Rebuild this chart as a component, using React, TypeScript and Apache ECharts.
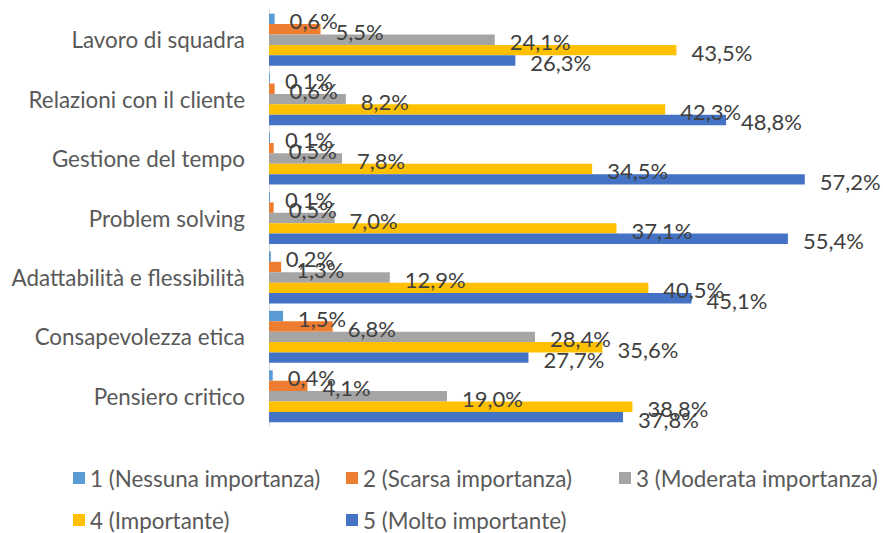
import React, { useEffect, useRef } from "react";
import * as echarts from "echarts";

const categories = [
  "Lavoro di squadra",
  "Relazioni con il cliente",
  "Gestione del tempo",
  "Problem solving",
  "Adattabilità e flessibilità",
  "Consapevolezza etica",
  "Pensiero critico",
];

const seriesNames = [
  "1 (Nessuna importanza)",
  "2 (Scarsa importanza)",
  "3 (Moderata importanza)",
  "4 (Importante)",
  "5 (Molto importante)",
];

const s1 = [0.6, 0.1, 0.1, 0.1, 0.2, 1.5, 0.4];
const s2 = [5.5, 0.6, 0.5, 0.5, 1.3, 6.8, 4.1];
const s3 = [24.1, 8.2, 7.8, 7.0, 12.9, 28.4, 19.0];
const s4 = [43.5, 42.3, 34.5, 37.1, 40.5, 35.6, 38.8];
const s5 = [26.3, 48.8, 57.2, 55.4, 45.1, 27.7, 37.8];

const colors = ["#5B9BD5", "#ED7D31", "#A5A5A5", "#FFC000", "#4472C4"];

const FONT = "Lato";
const FS = 22;
const FS_TEXT = 22.4;

export default function App() {
  const ref = useRef<HTMLDivElement>(null);
  useEffect(() => {
    if (!ref.current) return;
    const chart = echarts.init(ref.current, undefined, { renderer: "svg" });
    const all = [s1, s2, s3, s4, s5];
    const legendCommon = {
      orient: "horizontal" as const,
      itemWidth: 12,
      itemHeight: 12,
      itemGap: 0,
      padding: 0,
      icon: "rect",
      textStyle: { color: "#595959", fontFamily: FONT, fontSize: FS_TEXT, lineHeight: 22 },
    };
    const legendPos = [
      { left: 73, top: 467 },
      { left: 346, top: 467 },
      { left: 619, top: 467 },
      { left: 73, top: 509 },
      { left: 346, top: 509 },
    ];
    chart.setOption({
      animation: false,
      textStyle: { fontFamily: FONT },
      grid: { left: 269, right: 52, top: 10, bottom: 107 },
      xAxis: {
        type: "value",
        min: 0,
        max: 60,
        axisLabel: { show: false },
        splitLine: { show: false },
        axisLine: { show: false },
        axisTick: { show: false },
      },
      yAxis: {
        type: "category",
        data: categories,
        inverse: true,
        axisLine: { show: true, lineStyle: { color: "#D9D9D9", width: 1 } },
        axisTick: { show: false },
        axisLabel: { color: "#595959", fontFamily: FONT, fontSize: FS_TEXT, margin: 24 },
      },
      legend: seriesNames.map((n, i) => ({
        ...legendCommon,
        ...legendPos[i],
        data: [n],
      })),
      series: all.map((d, i) => ({
        name: seriesNames[i],
        type: "bar",
        data: d,
        barGap: "0%",
        barCategoryGap: "12.5%",
        itemStyle: { color: colors[i] },
        label: {
          show: true,
          position: "right",
          distance: 15,
          offset: [0, 2],
          color: "#404040",
          fontFamily: FONT,
          fontSize: FS,
          formatter: (p: any) => p.value.toFixed(1).replace(".", ",") + "%",
        },
      })),
    });
    return () => chart.dispose();
  }, []);
  return (
    <div
      ref={ref}
      style={{ position: "fixed", left: 0, top: 0, width: 883, height: 533, background: "#fff" }}
    />
  );
}
